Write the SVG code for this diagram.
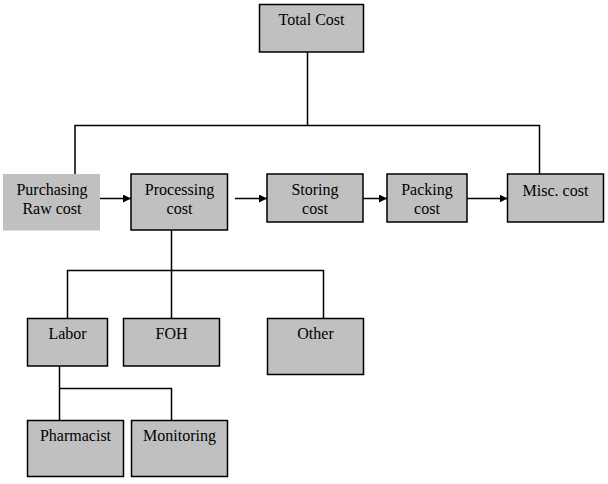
<svg xmlns="http://www.w3.org/2000/svg" width="608" height="484" viewBox="0 0 608 484">
<style>
.box{fill:#c0c0c0;stroke:#000;stroke-width:1.5}
.plain{fill:#c0c0c0;stroke:none}
text{font-family:"Liberation Serif","Times New Roman",serif;font-size:16px;fill:#000;text-anchor:middle}
.ln{fill:none;stroke:#000;stroke-width:1.5}
</style>
<defs>
<marker id="ah" markerWidth="8" markerHeight="8" refX="8" refY="4" orient="auto" markerUnits="userSpaceOnUse">
<path d="M0,0 L8,4 L0,8 Z" fill="#000"/>
</marker>
</defs>
<rect width="608" height="484" fill="#fff"/>
<g id="connectors">
<path class="ln" d="M307.5,52 V125.5 M75,174 V125.5 H539.5 V174"/>
<path class="ln" d="M100,198.5 H131" marker-end="url(#ah)"/>
<path class="ln" d="M235,198.5 H267" marker-end="url(#ah)"/>
<path class="ln" d="M363,198.5 H387" marker-end="url(#ah)"/>
<path class="ln" d="M467,198.5 H507.5" marker-end="url(#ah)"/>
<path class="ln" d="M171.5,230 V270.5 M67.5,318.5 V270.5 H323.5 V318.5 M171.5,270.5 V318.5"/>
<path class="ln" d="M59.5,366 V420.5 M59.5,388.5 H171.5 V420.5"/>
</g>
<g id="total"><rect class="box" x="259.5" y="4.5" width="104" height="47.5"/><text x="311.5" y="25">Total Cost</text></g>
<g id="purchasing"><rect class="plain" x="3" y="174" width="97" height="56.5"/><text x="52" y="195">Purchasing</text><text x="52" y="214">Raw cost</text></g>
<g id="processing"><rect class="box" x="131" y="174" width="96.5" height="56"/><text x="179.5" y="195">Processing</text><text x="179.5" y="214">cost</text></g>
<g id="storing"><rect class="box" x="267" y="174" width="96" height="48"/><text x="315" y="195">Storing</text><text x="315" y="214">cost</text></g>
<g id="packing"><rect class="box" x="387" y="174" width="80" height="48"/><text x="427" y="195">Packing</text><text x="427" y="214">cost</text></g>
<g id="misc"><rect class="box" x="507.5" y="174" width="96" height="48"/><text x="555.5" y="196">Misc. cost</text></g>
<g id="labor"><rect class="box" x="27.5" y="318.5" width="80" height="47.5"/><text x="67.5" y="339">Labor</text></g>
<g id="foh"><rect class="box" x="123.5" y="318.5" width="96" height="47.5"/><text x="171.5" y="339">FOH</text></g>
<g id="other"><rect class="box" x="267.5" y="318.5" width="96" height="56"/><text x="315.5" y="339">Other</text></g>
<g id="pharmacist"><rect class="box" x="27.5" y="420.5" width="96" height="56"/><text x="75.5" y="441">Pharmacist</text></g>
<g id="monitoring"><rect class="box" x="131.5" y="420.5" width="96" height="56"/><text x="179.5" y="441">Monitoring</text></g>
</svg>
